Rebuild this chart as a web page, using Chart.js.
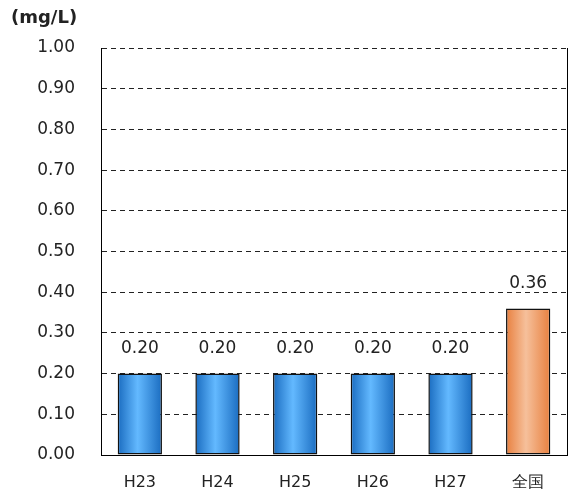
<!DOCTYPE html>
<html>
<head>
<meta charset="utf-8">
<script src="https://cdn.jsdelivr.net/npm/chart.js@4"></script>
<style>
  html, body { margin: 0; padding: 0; background: #fff; }
  #wrap { width: 572px; height: 493px; }
</style>
</head>
<body>
<div id="wrap"><canvas id="chart" width="572" height="493"></canvas></div>
<script>
// chart values
const categories = ['H23', 'H24', 'H25', 'H26', 'H27', '全国'];
const values = [0.20, 0.20, 0.20, 0.20, 0.20, 0.36];
const unitLabel = '(mg/L)';

const fontFamily = 'Verdana, "DejaVu Sans", sans-serif';
const barFrac = 0.57;

// horizontal gradient per bar, dark at the edges
function barFill(ctx) {
  const chart = ctx.chart;
  const xs = chart.scales.x;
  if (!xs || !chart.chartArea) return '#4aa3f0';
  const cx = xs.getPixelForValue(ctx.dataIndex);
  const w = chart.chartArea.width / categories.length * barFrac;
  const g = chart.ctx.createLinearGradient(cx - w / 2, 0, cx + w / 2, 0);
  if (ctx.dataIndex === categories.length - 1) {
    g.addColorStop(0, '#e8803f');
    g.addColorStop(0.45, '#f6c09b');
    g.addColorStop(1, '#e8803f');
  } else {
    g.addColorStop(0, '#1a6cc0');
    g.addColorStop(0.45, '#63b9ff');
    g.addColorStop(1, '#1a6cc0');
  }
  return g;
}

const extras = {
  id: 'extras',
  afterDatasetsDraw(chart) {
    const c = chart.ctx;
    const area = chart.chartArea;
    c.save();
    // right border
    c.strokeStyle = '#000';
    c.lineWidth = 1;
    c.beginPath();
    c.moveTo(area.right + 0.5, area.top);
    c.lineTo(area.right + 0.5, area.bottom);
    c.stroke();
    // value labels
    c.fillStyle = '#222';
    c.font = '17px ' + fontFamily;
    c.textAlign = 'center';
    c.textBaseline = 'middle';
    chart.getDatasetMeta(0).data.forEach((bar, i) => {
      c.fillText(values[i].toFixed(2), bar.x, bar.y - 25);
    });
    // unit
    c.font = 'bold 18px ' + fontFamily;
    c.textAlign = 'left';
    c.fillText(unitLabel, 11, 18);
    c.restore();
  }
};

new Chart(document.getElementById('chart'), {
  type: 'bar',
  data: {
    labels: categories,
    datasets: [{
      data: values,
      backgroundColor: barFill,
      borderColor: '#111',
      borderWidth: 1.5,
      borderSkipped: false,
      categoryPercentage: 1,
      barPercentage: barFrac
    }]
  },
  options: {
    responsive: false,
    devicePixelRatio: 1,
    animation: false,
    layout: { padding: { top: 48, right: 5, left: 0, bottom: 0 } },
    plugins: { legend: { display: false }, tooltip: { enabled: false } },
    scales: {
      x: {
        grid: { display: false },
        border: { color: '#000', width: 1 },
        ticks: { color: '#222', font: { size: 16, family: fontFamily }, padding: 10 },
        afterFit(scale) { scale.height = 38; }
      },
      y: {
        min: 0,
        max: 1,
        grid: { color: '#222', drawTicks: false },
        border: { color: '#000', width: 1, dash: [5, 4] },
        ticks: {
          stepSize: 0.1,
          color: '#222',
          padding: 26,
          font: { size: 17, family: fontFamily },
          callback: v => v.toFixed(2)
        },
        afterFit(scale) { scale.width = 101; }
      }
    }
  },
  plugins: [extras]
});
</script>
</body>
</html>
